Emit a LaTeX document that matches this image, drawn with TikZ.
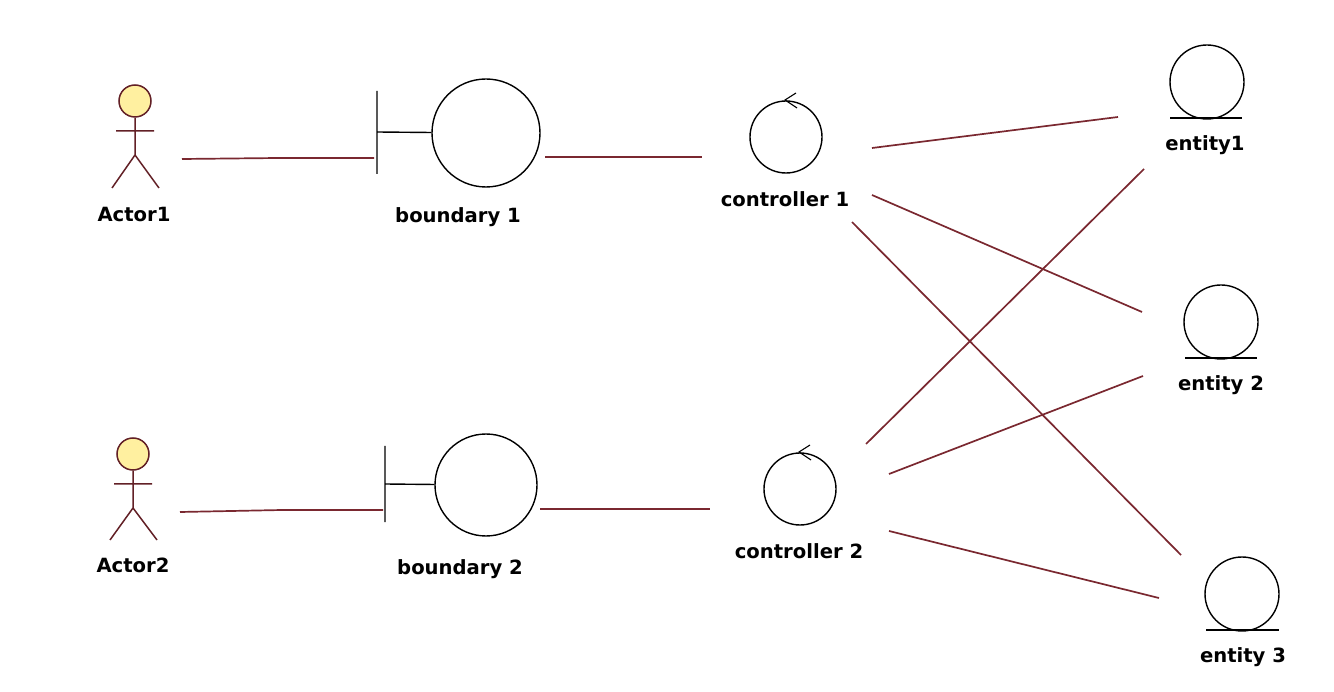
\documentclass[tikz,border=0pt]{standalone}
\usepackage{fontspec}
\setmainfont{DejaVu Sans}
\definecolor{linkred}{RGB}{122,40,48}
\definecolor{headyellow}{RGB}{255,240,160}
\tikzset{
  ball/.style={draw,circle,inner sep=0pt,line width=1.4pt},
  name label/.style={font=\bfseries\fontsize{19.6}{22}\selectfont},
  link/.style={draw=linkred,line width=1.7pt},
  stick/.style={draw=linkred!80!black,line width=1.5pt}
}
\begin{document}
\begin{tikzpicture}[x=1pt,y=-1pt]
\useasboundingbox (0,0) rectangle (1334,692);
% actors
\node[ball,stick,fill=headyellow,minimum size=32pt] (head1) at (135,101) {};
\node[name label] (actor1) at (134,214) {Actor1};
\coordinate (hip1) at (135,155);
\coordinate (armL1) at (116,131);
\coordinate (armR1) at (154,131);
\coordinate (footL1) at (112,188);
\coordinate (footR1) at (159,188);
\draw[stick] (head1) -- (hip1) (armL1) -- (armR1) (footL1) -- (hip1) -- (footR1);
\node[ball,stick,fill=headyellow,minimum size=32pt] (head2) at (133,454) {};
\node[name label] (actor2) at (133,565) {Actor2};
\coordinate (hip2) at (133,508);
\coordinate (armL2) at (114,484);
\coordinate (armR2) at (152,484);
\coordinate (footL2) at (110,540);
\coordinate (footR2) at (157,540);
\draw[stick] (head2) -- (hip2) (armL2) -- (armR2) (footL2) -- (hip2) -- (footR2);
% boundaries
\node[ball,minimum size=108pt] (bound1) at (486,133) {};
\node[name label] (boundlab1) at (458,217) {boundary 1};
\coordinate (barT1) at (377,91);
\coordinate (barB1) at (377,174);
\coordinate (barM1) at (377,132);
\draw[line width=1.4pt] (barT1) -- (barB1) (barM1) -- (bound1);
\node[ball,minimum size=102pt] (bound2) at (486,485) {};
\node[name label] (boundlab2) at (460,569) {boundary 2};
\coordinate (barT2) at (385,446);
\coordinate (barB2) at (385,522);
\coordinate (barM2) at (385,484);
\draw[line width=1.4pt] (barT2) -- (barB2) (barM2) -- (bound2);
% controllers
\node[ball,minimum size=72pt] (ctrl1) at (786,137) {};
\node[name label] (ctrllab1) at (785,199) {controller 1};
\coordinate (tip1) at (785,100);
\coordinate (tipU1) at (796,93);
\coordinate (tipD1) at (797,108);
\draw[line width=1.1pt] (tipU1) -- (tip1) -- (tipD1);
\node[ball,minimum size=72pt] (ctrl2) at (800,489) {};
\node[name label] (ctrllab2) at (799,551) {controller 2};
\coordinate (tip2) at (799,452);
\coordinate (tipU2) at (810,445);
\coordinate (tipD2) at (811,460);
\draw[line width=1.1pt] (tipU2) -- (tip2) -- (tipD2);
% entities
\node[ball,minimum size=74pt] (ent1) at (1207,82) {};
\node[name label] (entlab1) at (1205,145) {entity1};
\coordinate (baseL1) at (1170,118);
\coordinate (baseR1) at (1242,118);
\draw[line width=1.4pt] (baseL1) -- (baseR1);
\node[ball,minimum size=74pt] (ent2) at (1221,322) {};
\node[name label] (entlab2) at (1221,385) {entity 2};
\coordinate (baseL2) at (1185,358);
\coordinate (baseR2) at (1257,358);
\draw[line width=1.4pt] (baseL2) -- (baseR2);
\node[ball,minimum size=74pt] (ent3) at (1242,594) {};
\node[name label] (entlab3) at (1243,657) {entity 3};
\coordinate (baseL3) at (1206,630);
\coordinate (baseR3) at (1279,630);
\draw[line width=1.4pt] (baseL3) -- (baseR3);
% links, free ends just short of the symbols
\coordinate (a1out) at (182,159);
\coordinate (a1mid) at (278,158);
\coordinate (b1in) at (374,158);
\coordinate (b1out) at (545,157);
\coordinate (c1in) at (702,157);
\coordinate (a2out) at (180,512);
\coordinate (a2mid) at (282,510);
\coordinate (b2in) at (383,510);
\coordinate (b2out) at (540,509);
\coordinate (c2in) at (710,509);
\draw[link] (a1out) -- (a1mid) -- (b1in);
\draw[link] (b1out) -- (c1in);
\draw[link] (a2out) -- (a2mid) -- (b2in);
\draw[link] (b2out) -- (c2in);
\coordinate (c1e1) at (872,148);
\coordinate (e1c1) at (1118,117);
\coordinate (c1e2) at (872,195);
\coordinate (e2c1) at (1142,312);
\coordinate (c1e3) at (852,222);
\coordinate (e3c1) at (1181,555);
\coordinate (c2e1) at (866,444);
\coordinate (e1c2) at (1144,169);
\coordinate (c2e2) at (889,474);
\coordinate (e2c2) at (1143,376);
\coordinate (c2e3) at (889,531);
\coordinate (e3c2) at (1159,598);
\draw[link] (c1e1) -- (e1c1);
\draw[link] (c1e2) -- (e2c1);
\draw[link] (c1e3) -- (e3c1);
\draw[link] (c2e1) -- (e1c2);
\draw[link] (c2e2) -- (e2c2);
\draw[link] (c2e3) -- (e3c2);
\end{tikzpicture}
\end{document}
